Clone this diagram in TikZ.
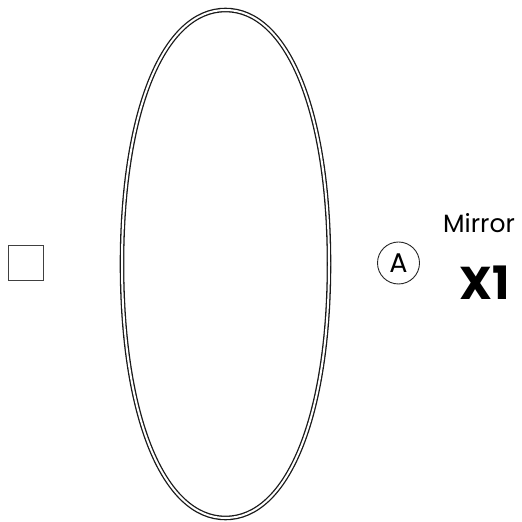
\documentclass[tikz,border=0pt]{standalone}
\usepackage{fontspec}
\setmainfont{Poppins}
\usetikzlibrary{calc}
\begin{document}
\begin{tikzpicture}[x=1pt,y=1pt,
  outline/.style={draw=black!90, line width=1.3pt, double=white, double distance=2.0pt},
  box/.style={draw=black!75, line width=1.7pt, minimum size=35pt, inner sep=0pt},
  tag/.style={draw=black!85, line width=0.9pt, circle, minimum size=42pt, inner sep=0pt, font=\fontsize{27}{27}\selectfont},
  lbl/.style={inner sep=0pt, anchor=base west},
]
\useasboundingbox (0,0) rectangle (522,522);
% mirror outline (slightly squarish ellipse)
\coordinate (c) at (225.5,258);
\def\ra{103.5}\def\rb{254}\def\k{0.6}
\draw[outline] ($(c)+(\ra,0)$)
  .. controls +(0,\k*\rb) and +(\k*\ra,0) .. ($(c)+(0,\rb)$)
  .. controls +(-\k*\ra,0) and +(0,\k*\rb) .. ($(c)+(-\ra,0)$)
  .. controls +(0,-\k*\rb) and +(-\k*\ra,0) .. ($(c)+(0,-\rb)$)
  .. controls +(\k*\ra,0) and +(0,-\k*\rb) .. cycle;
\node[box] (sq) at (26,259) {};
\node[tag] (A) at (398.5,259) {A};
\node[lbl, font=\fontsize{25}{25}\selectfont] (mirror) at (443,289) {Mirror};
\node[lbl, font=\fontsize{46}{46}\selectfont\bfseries] (x1) at (459,222) {X1};
\end{tikzpicture}
\end{document}
